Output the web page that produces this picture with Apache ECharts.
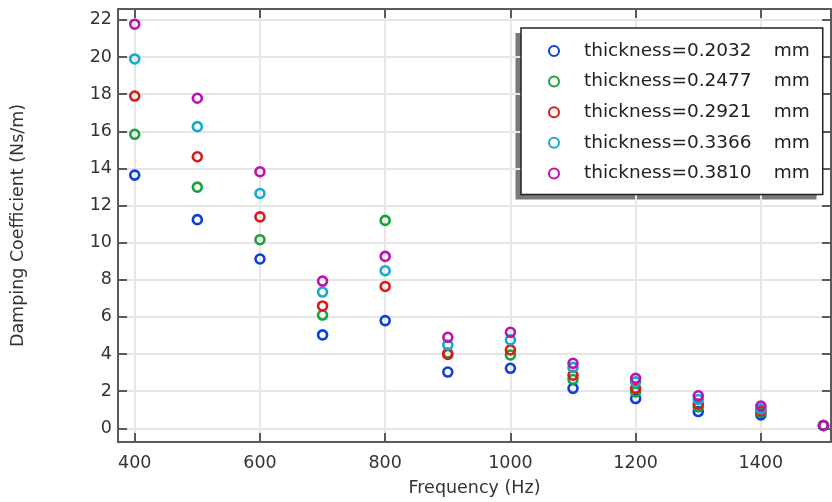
<!DOCTYPE html>
<html>
<head>
<meta charset="utf-8">
<script src="https://cdn.jsdelivr.net/npm/echarts@6/dist/echarts.min.js"></script>
<style>
html,body{margin:0;padding:0;background:#fff;}
#chart{width:832px;height:502px;}
</style>
</head>
<body>
<div id="chart"></div>
<script>
const frequencies = [400, 500, 600, 700, 800, 900, 1000, 1100, 1200, 1300, 1400, 1500];
const seriesNames = ['thickness=0.2032 mm', 'thickness=0.2477 mm', 'thickness=0.2921 mm', 'thickness=0.3366 mm', 'thickness=0.3810 mm'];
const t02032 = [13.64, 11.24, 9.12, 5.03, 5.80, 3.03, 3.23, 2.15, 1.60, 0.90, 0.72, 0.15];
const t02477 = [15.84, 12.99, 10.16, 6.10, 11.20, 4.05, 3.95, 2.63, 1.96, 1.15, 0.85, 0.15];
const t02921 = [17.90, 14.63, 11.39, 6.59, 7.64, 3.98, 4.22, 2.86, 2.15, 1.30, 0.95, 0.15];
const t03366 = [19.90, 16.25, 12.65, 7.34, 8.49, 4.49, 4.76, 3.28, 2.50, 1.55, 1.05, 0.15];
const t03810 = [21.77, 17.78, 13.82, 7.93, 9.26, 4.90, 5.17, 3.50, 2.69, 1.75, 1.20, 0.15];
const xTicks = [400, 600, 800, 1000, 1200, 1400];
const yTicks = [0, 2, 4, 6, 8, 10, 12, 14, 16, 18, 20, 22];

const colors = ['#0b3fe0', '#17a23a', '#dd1a1a', '#16aad2', '#bb12b0'];
const allData = [t02032, t02477, t02921, t03366, t03810];

const font = 'DejaVu Sans';
const axisCol = '#5a5a5a';
const gridCol = '#e6e6e6';

const chart = echarts.init(document.getElementById('chart'), null, {renderer: 'canvas'});

const series = allData.map((vals, i) => ({
  name: seriesNames[i],
  type: 'scatter',
  symbol: 'circle',
  symbolSize: 9,
  itemStyle: {color: 'rgba(255,255,255,0)', borderColor: colors[i], borderWidth: 2.6, opacity: 1},
  emphasis: {disabled: true},
  data: frequencies.map((f, j) => [f, vals[j]])
}));

const plain = v => String(v);

const xBase = {
  type: 'value', min: 373.3, max: 1512,
  axisLine: {show: true, onZero: false, lineStyle: {color: axisCol, width: 2}},
  axisTick: {show: true, inside: true, length: 9, customValues: xTicks, lineStyle: {color: axisCol, width: 2}},
  splitLine: {show: false}
};
const yBase = {
  type: 'value', min: -0.74, max: 22.59,
  axisLine: {show: true, onZero: false, lineStyle: {color: axisCol, width: 2}},
  axisTick: {show: true, inside: true, length: 9, customValues: yTicks, lineStyle: {color: axisCol, width: 2}},
  splitLine: {show: false}
};

chart.setOption({
  animation: false,
  backgroundColor: '#fff',
  textStyle: {fontFamily: font},
  grid: {left: 118, top: 9, right: 1, bottom: 60, containLabel: false},
  graphic: [{
    type: 'rect', z: 0, silent: true,
    shape: {x: 515.5, y: 33, width: 301, height: 166.5},
    style: {fill: '#7a7a7a'}
  }],
  xAxis: [
    Object.assign({}, xBase, {
      position: 'bottom',
      name: 'Frequency (Hz)', nameLocation: 'middle', nameGap: 37,
      nameTextStyle: {fontFamily: font, fontSize: 17.5, color: '#333'},
      axisLabel: {show: true, customValues: xTicks, formatter: plain, margin: 12, fontFamily: font, fontSize: 17.5, color: '#333'},
      splitLine: {show: true, lineStyle: {color: gridCol, width: 2}}
    }),
    Object.assign({}, xBase, {position: 'top', axisLabel: {show: false}})
  ],
  yAxis: [
    Object.assign({}, yBase, {
      position: 'left',
      name: 'Damping Coefficient (Ns/m)', nameLocation: 'middle', nameGap: 91,
      nameTextStyle: {fontFamily: font, fontSize: 17.5, color: '#333'},
      axisLabel: {show: true, customValues: yTicks, formatter: plain, margin: 6, fontFamily: font, fontSize: 17.5, color: '#333'},
      splitLine: {show: true, lineStyle: {color: gridCol, width: 2}}
    }),
    Object.assign({}, yBase, {position: 'right', axisLabel: {show: false}})
  ],
  legend: {
    orient: 'vertical',
    left: 521, top: 28,
    padding: [13, 13, 11, 27],
    itemWidth: 10, itemHeight: 10,
    itemGap: 10.6,
    z: 10,
    backgroundColor: '#fff',
    borderColor: '#222', borderWidth: 1.5,
    selectedMode: false,
    itemStyle: {color: 'rgba(255,255,255,0)', borderWidth: 2},
    formatter: function (name) {
      const parts = name.split(' ');
      return '{p| }{a|' + parts[0] + '}{b|' + parts[1] + '}';
    },
    textStyle: {
      fontFamily: font, fontSize: 18.5, color: '#222', lineHeight: 20,
      rich: {
        p: {width: 20, fontSize: 18.5, fontFamily: font},
        a: {width: 189.7, fontSize: 18.5, fontFamily: font, color: '#222'},
        b: {fontSize: 18.5, fontFamily: font, color: '#222'}
      }
    },
    data: seriesNames.map(n => ({name: n, icon: 'circle'}))
  },
  series: series
});
</script>
</body>
</html>
